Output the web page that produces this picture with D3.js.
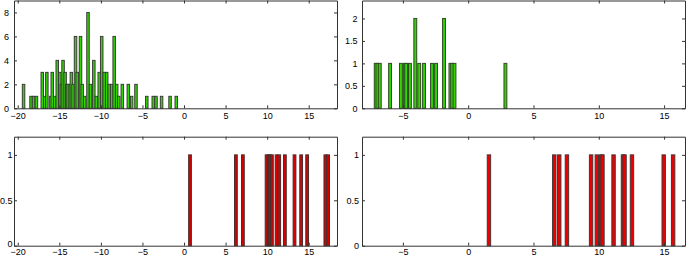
<!DOCTYPE html>
<html lang="en">
<head>
<meta charset="utf-8">
<title>Histograms</title>
<script src="https://cdn.jsdelivr.net/npm/d3@7"></script>
<style>
  body { margin: 0; background: #fff; }
  text { font-family: "Liberation Sans", Arial, sans-serif; font-size: 9px; fill: #000; }
</style>
</head>
<body>
<script>
// bin centres and counts
var tlX = [-19.3, -18.4, -18.1, -17.75, -17.05, -16.75, -16.5, -16.05, -15.85, -15.55,
           -15.25, -14.95, -14.75, -14.55, -14.3, -14.1, -13.95, -13.7, -13.55, -13.35,
           -13.05, -12.85, -12.45, -12.25, -11.95, -11.55, -11.25, -10.85, -10.55, -10.2,
           -9.9, -9.6, -9.3, -9.0, -8.7, -8.4, -8.1, -7.85, -7.42, -6.7,
           -6.3, -5.78, -4.48, -3.7, -3.37, -2.7, -1.68, -0.93];
var tlY = [2, 1, 1, 1, 3, 1, 3, 1, 3, 1,
           4, 3, 2, 4, 3, 2, 2, 2, 3, 2,
           6, 3, 6, 2, 1, 8, 2, 4, 1, 3,
           6, 3, 3, 2, 2, 6, 2, 1, 2, 2,
           1, 2, 1, 1, 1, 1, 1, 1];

var trX = [-7.08, -6.95, -6.77, -5.98, -5.15, -4.85, -4.75, -4.46, -4.05, -3.75,
           -3.38, -2.77, -2.46, -1.85, -1.36, -1.23, -1.05, 2.85];
var trY = [1, 1, 1, 1, 1, 1, 1, 1, 2, 1,
           1, 1, 1, 2, 1, 1, 1, 1];

var blX = [0.72, 6.24, 7.08, 9.93, 10.17, 10.33, 10.57, 11.13, 11.45, 12.13,
           13.29, 14.09, 14.81, 17.0, 17.33];
var blY = [1, 1, 1, 1, 1, 1, 1, 1, 1, 1, 1, 1, 1, 1, 1];

var brX = [1.59, 6.59, 6.97, 7.56, 9.41, 9.85, 10.18, 10.28, 11.13, 11.85,
           11.97, 12.54, 14.97, 15.69];
var brY = [1, 1, 1, 1, 1, 1, 1, 1, 1, 1, 1, 1, 1, 1];

var xTicksL = [-20, -15, -10, -5, 0, 5, 10, 15];
var xTicksR = [-5, 0, 5, 10, 15];
var yTicksTL = [0, 2, 4, 6, 8];
var yTicksTR = [0, 0.5, 1, 1.5, 2];
var yTicksB = [0, 0.5, 1];

var W = 686, H = 256;
var svg = d3.select("body").append("svg").attr("width", W).attr("height", H);

var panels = [
  {xs: tlX, ys: tlY, xd: [-20.45, 18.4], yd: [0, 9],   xt: xTicksL, yt: yTicksTL,
   l: 14, r: 337, t: 0.5, b: 108.3, pad: 4, ypad: 5, bw: 0.3, fill: "#33d400", stroke: "#3c3c3c"},
  {xs: trX, ys: trY, xd: [-8.13, 16.6], yd: [0, 2.4], xt: xTicksR, yt: yTicksTR,
   l: 362, r: 685, t: 0.5, b: 108.3, pad: 4, ypad: 4.5, bw: 0.22, fill: "#33d400", stroke: "#2f4a22"},
  {xs: blX, ys: blY, xd: [-20.45, 18.4], yd: [0, 1.2], xt: xTicksL, yt: yTicksB,
   l: 14, r: 337, t: 136.7, b: 245.7, pad: 3.2, ypad: 1.5, bw: 0.33, fill: "#d80000", stroke: "#4a2c2c", lift0: true},
  {xs: brX, ys: brY, xd: [-8.13, 16.6], yd: [0, 1.2], xt: xTicksR, yt: yTicksB,
   l: 362, r: 685, t: 136.7, b: 245.7, pad: 3.2, ypad: 3, bw: 0.26, fill: "#ee0000", stroke: "#443636"}
];

panels.forEach(function(p) {
  var x = d3.scaleLinear().domain(p.xd).range([p.l, p.r]);
  var y = d3.scaleLinear().domain(p.yd).range([p.b, p.t]);
  var g = svg.append("g");

  var bins = p.xs.map(function(v, i) { return {x: v, n: p.ys[i]}; });
  g.selectAll("rect.bar")
    .data(bins)
    .enter()
    .append("rect")
    .attr("class", "bar")
    .attr("x", function(d) { return x(d.x - p.bw / 2); })
    .attr("y", function(d) { return y(d.n); })
    .attr("width", function(d) { return x(d.x + p.bw / 2) - x(d.x - p.bw / 2); })
    .attr("height", function(d) { return y(0) - y(d.n); })
    .attr("fill", p.fill)
    .attr("stroke", p.stroke)
    .attr("stroke-width", 1);

  // axes, ticks inward and mirrored
  var fmt = function(d) { return String(d).replace("-", "\u2212"); };
  g.append("g").attr("transform", "translate(0," + p.b + ")")
    .call(d3.axisBottom(x).tickValues(p.xt).tickSizeInner(-3).tickSizeOuter(0).tickPadding(p.pad).tickFormat(fmt));
  g.append("g").attr("transform", "translate(0," + p.t + ")")
    .call(d3.axisTop(x).tickValues(p.xt).tickSizeInner(-3).tickSizeOuter(0).tickFormat(""));
  var yAx = g.append("g").attr("transform", "translate(" + p.l + ",0)")
    .call(d3.axisLeft(y).tickValues(p.yt).tickSizeInner(-3).tickSizeOuter(0).tickPadding(p.ypad).tickFormat(fmt));
  g.append("g").attr("transform", "translate(" + p.r + ",0)")
    .call(d3.axisRight(y).tickValues(p.yt).tickSizeInner(-3).tickSizeOuter(0).tickFormat(""));

  // keep the corner "0" clear of the "-20" below it
  if (p.lift0) {
    yAx.selectAll(".tick text").filter(function(d) { return d === 0; }).attr("dy", "0.05em");
  }

  g.selectAll(".domain").attr("stroke", "#333");
  g.selectAll(".tick line").attr("stroke", "#333");
  g.selectAll(".tick text").attr("fill", "#000").style("font-size", "9px")
    .style("font-family", "Liberation Sans, Arial, sans-serif");
});
</script>
</body>
</html>
